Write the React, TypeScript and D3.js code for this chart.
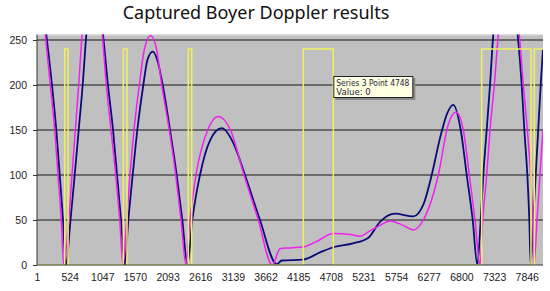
import React, { useEffect, useRef } from 'react';
import * as d3 from 'd3';

// x axis categories (sample numbers shown every 523 points)
const xTickLabels = [1, 524, 1047, 1570, 2093, 2616, 3139, 3662, 4185, 4708, 5231, 5754, 6277, 6800, 7323, 7846];
const yTicks = [0, 50, 100, 150, 200, 250];
const pointCount = 8107;
const yMax = 256;

// Series 1 (navy) read at key points: sample index / value
const series1Index = [1, 150, 241, 310, 365, 418, 462, 538, 605, 669, 733, 791, 925, 1058, 1138, 1219, 1283, 1347, 1406,
  1464, 1534, 1608, 1704, 1771, 1855, 1931, 2015, 2132, 2239, 2329, 2412, 2489, 2612, 2770, 2960, 3150, 3333, 3573, 3841,
  3921, 4262, 4535, 4759, 5063, 5304, 5496, 5736, 6029, 6190, 6324, 6457, 6569, 6670, 6789, 6885, 6981, 7055, 7109, 7151,
  7205, 7258, 7311, 7506, 7702, 7766, 7808, 7856, 7888, 7910, 7950, 7990, 8030, 8070, 8107];
const series1Value = [340, 256, 200, 150, 100, 50, 0, 50, 100, 150, 200, 256, 320, 256, 200, 150, 100, 50, 0,
  50, 100, 150, 200, 228, 237, 227, 200, 150, 100, 50, 0, 50, 100, 138, 152, 135, 100, 50, 1,
  5, 6, 14, 20, 24, 30, 48, 57, 54, 67, 100, 141, 168, 178, 150, 100, 50, 0, 50, 100,
  150, 200, 256, 330, 256, 200, 150, 100, 50, 0, 50, 100, 150, 200, 240];

// Series 2 (magenta)
const series2Index = [1, 134, 214, 285, 337, 390, 429, 509, 562, 615, 669, 722, 885, 1047, 1111, 1187, 1262, 1326, 1379,
  1438, 1491, 1555, 1640, 1723, 1822, 1915, 1999, 2120, 2223, 2308, 2388, 2452, 2548, 2736, 2905, 3100, 3317, 3546, 3770,
  3894, 4054, 4262, 4503, 4743, 5015, 5175, 5336, 5496, 5656, 5869, 6029, 6190, 6430, 6585, 6713, 6830, 6927, 7018, 7098,
  7141, 7205, 7258, 7327, 7391, 7559, 7727, 7792, 7856, 7910, 7942, 7963, 8011, 8059, 8107];
const series2Value = [330, 256, 200, 150, 100, 50, 0, 50, 100, 150, 200, 256, 330, 256, 200, 150, 100, 50, 0,
  50, 100, 150, 200, 240, 255, 240, 200, 150, 100, 50, 0, 50, 100, 150, 165, 150, 100, 50, 0,
  18, 19, 20, 27, 35, 34, 32, 38, 44, 49, 44, 39, 50, 100, 155, 170, 150, 100, 50, 0,
  50, 100, 150, 200, 256, 330, 256, 200, 150, 100, 50, 0, 50, 100, 150];

// Series 3 (yellow) gate pulses: start / end sample, high level
const series3On = [445, 1384, 2425, 4267, 7125, 7968];
const series3Off = [498, 1443, 2479, 4748, 7915, 8107];
const series3High = 240;

const tooltipPoint = 4748;
const tooltipValue = 0;

const App = () => {
  const ref = useRef<SVGSVGElement>(null);

  useEffect(() => {
    if (!ref.current) return;
    const svg = d3.select(ref.current);
    svg.selectAll('*').remove();

    const left = 37, right = 543, bottom = 265;
    const x = d3.scaleLinear().domain([1, pointCount]).range([left, right]);
    const y = d3.scaleLinear().domain([0, yMax]).range([bottom, bottom - yMax * 0.9]);
    const top = y(yMax);

    svg.append('rect').attr('width', 550).attr('height', 291).attr('fill', '#fff');

    // title
    svg.append('text')
      .attr('x', 256).attr('y', 19)
      .attr('text-anchor', 'middle')
      .style('font-family', '"Noto Sans", "Open Sans", sans-serif')
      .style('font-size', '18px')
      .attr('fill', '#111')
      .text('Captured Boyer Doppler results');

    // plot area
    svg.append('rect')
      .attr('x', left).attr('y', top)
      .attr('width', right - left).attr('height', bottom - top)
      .attr('fill', '#c0c0c0');
    svg.append('line')
      .attr('x1', left).attr('x2', right).attr('y1', top + 0.5).attr('y2', top + 0.5)
      .attr('stroke', '#d6d6d6');

    // gridlines
    svg.append('g').selectAll('line')
      .data(yTicks.filter(d => d > 0))
      .join('line')
      .attr('x1', left).attr('x2', right)
      .attr('y1', d => y(d)).attr('y2', d => y(d))
      .attr('stroke', '#151515').attr('stroke-width', 1.2);

    const clipId = 'plot-clip';
    svg.append('clipPath').attr('id', clipId)
      .append('rect')
      .attr('x', left).attr('y', top)
      .attr('width', right - left).attr('height', bottom - top);

    const plot = svg.append('g').attr('clip-path', `url(#${clipId})`);

    const curveLine = d3.line<[number, number]>()
      .x(d => x(d[0]))
      .y(d => y(d[1]))
      .curve(d3.curveMonotoneX);

    const s1 = series1Index.map((d, i) => [d, series1Value[i]] as [number, number]);
    const s2 = series2Index.map((d, i) => [d, series2Value[i]] as [number, number]);

    plot.append('path').attr('d', curveLine(s1))
      .attr('fill', 'none').attr('stroke', '#0b0b78').attr('stroke-width', 1.8);
    plot.append('path').attr('d', curveLine(s2))
      .attr('fill', 'none').attr('stroke', '#f020f0').attr('stroke-width', 1.5);

    // yellow gate as square pulses
    const s3: [number, number][] = [[1, 0]];
    series3On.forEach((on, i) => {
      const off = series3Off[i];
      s3.push([on, 0], [on, series3High], [off, series3High]);
      if (off < pointCount) s3.push([off, 0]);
    });
    if (series3Off[series3Off.length - 1] < pointCount) s3.push([pointCount, 0]);
    const stepLine = d3.line<[number, number]>().x(d => x(d[0])).y(d => y(d[1]));
    plot.append('path').attr('d', stepLine(s3))
      .attr('fill', 'none').attr('stroke', '#f0f060').attr('stroke-width', 1.5);

    // axes
    const yAxis = svg.append('g')
      .attr('transform', `translate(${left},0)`)
      .call(d3.axisLeft(y).tickValues(yTicks).tickSize(4).tickPadding(6).tickSizeOuter(0));
    yAxis.select('.domain').attr('stroke', '#333').attr('d', `M0,${top}V${bottom}`);
    yAxis.selectAll('line').attr('stroke', '#333');
    yAxis.selectAll('text')
      .style('font-family', '"Liberation Sans", Arial, sans-serif')
      .style('font-size', '10.5px')
      .attr('fill', '#222');

    const xAxis = svg.append('g')
      .attr('transform', `translate(0,${bottom})`)
      .call(d3.axisBottom(x).tickValues(xTickLabels).tickSize(0).tickPadding(9).tickFormat(d3.format('d')));
    xAxis.select('.domain').attr('stroke', '#333').attr('d', `M${left},0H${right}`);
    xAxis.selectAll('text')
      .style('font-family', '"Liberation Sans", Arial, sans-serif')
      .style('font-size', '10.5px')
      .attr('fill', '#222');

    // tooltip for hovered point
    const tx = x(tooltipPoint);
    const ty = 76;
    const tip = svg.append('g');
    tip.append('rect').attr('x', tx + 2).attr('y', ty + 2).attr('width', 80).attr('height', 22).attr('fill', '#8a8a8a');
    tip.append('rect').attr('x', tx + 0.5).attr('y', ty + 0.5).attr('width', 79).attr('height', 21)
      .attr('fill', '#ffffe1').attr('stroke', '#222');
    tip.append('text').attr('x', tx + 3).attr('y', ty + 9.5)
      .style('font-family', '"DejaVu Sans", sans-serif').style('font-size', '8.5px')
      .attr('textLength', 73).attr('lengthAdjust', 'spacingAndGlyphs')
      .attr('fill', '#1c1c40').text(`Series 3 Point ${tooltipPoint}`);
    tip.append('text').attr('x', tx + 3).attr('y', ty + 19)
      .style('font-family', '"DejaVu Sans", sans-serif').style('font-size', '8.5px')
      .attr('fill', '#1c1c40').text(`Value: ${tooltipValue}`);
  }, []);

  return (
    <svg ref={ref} width={550} height={291}
      style={{ position: 'absolute', left: 0, top: 0, display: 'block' }} />
  );
};

export default App;
